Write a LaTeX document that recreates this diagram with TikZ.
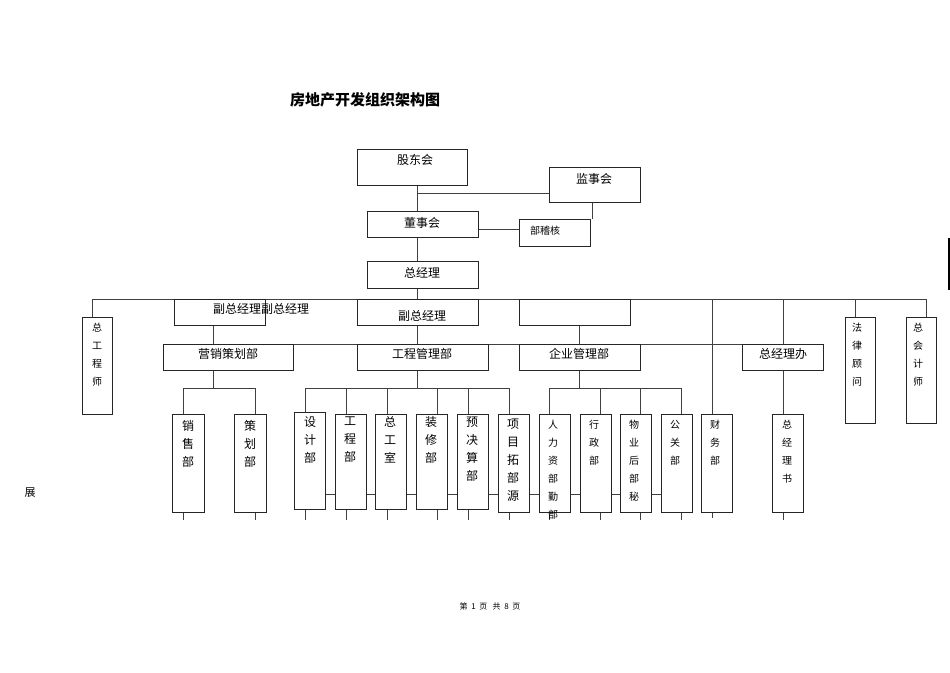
\documentclass[tikz,border=0pt]{standalone}
\usepackage{fontspec}
\setmainfont{Noto Sans CJK SC}
\begin{document}
\begin{tikzpicture}[x=1pt,y=-1pt,line width=0.9pt,
  bx/.style={draw=black!85,fill=white},
  ln/.style={draw=black!75},
  hl/.style={font=\fontsize{12}{14}\selectfont},
  vt/.style={anchor=north,align=center,font=\fontsize{12}{18}\selectfont,inner sep=0},
  vs/.style={anchor=north,align=center,font=\fontsize{10}{18}\selectfont,inner sep=0}]
\useasboundingbox (0,0) rectangle (950,672);
\node[font=\bfseries\fontsize{15}{17}\selectfont] (title) at (365,100) {房地产开发组织架构图};
% lines behind
\draw[ln] (417,185) -- (417,211);
\draw[ln] (417,193) -- (549,193);
\draw[ln] (592,202) -- (592,219);
\draw[ln] (478,229) -- (519,229);
\draw[ln] (417,237) -- (417,261);
\draw[ln] (417,288) -- (417,299);
\draw[ln] (92,299) -- (926,299);
\draw[ln] (92,299) -- (92,317);
\draw[ln] (855,299) -- (855,317);
\draw[ln] (926,299) -- (926,317);
\draw[ln] (712,299) -- (712,518);
\draw[ln] (783,299) -- (783,414);
\draw[ln] (174,344) -- (742,344);
\draw[ln] (213,325) -- (213,344);
\draw[ln] (417,325) -- (417,344);
\draw[ln] (579,325) -- (579,344);
% level 3 buses
\draw[ln] (213,370) -- (213,388) (183,388) -- (255,388);
\foreach \x in {183,255} \draw[ln] (\x,388) -- (\x,520);
\draw[ln] (417,370) -- (417,388) (305,388) -- (509,388);
\foreach \x in {305,346,387,437,468,509} \draw[ln] (\x,388) -- (\x,520);
\draw[ln] (579,370) -- (579,388) (549,388) -- (681,388);
\foreach \x in {549,600,640,681} \draw[ln] (\x,388) -- (\x,520);
\draw[ln] (783,414) -- (783,520);
\draw[ln] (320,494) -- (670,494);
% top boxes
\draw[bx] (357,149) rectangle (467,185); \node[hl] (gdh) at (415,160) {股东会};
\draw[bx] (549,167) rectangle (640,202); \node[hl] (jsh) at (594,179) {监事会};
\draw[bx] (367,211) rectangle (478,237); \node[hl] (dsh) at (422,223) {董事会};
\draw[bx] (519,219) rectangle (590,246); \node[font=\fontsize{10}{12}\selectfont] (jh) at (545,231) {部稽核};
\draw[bx] (367,261) rectangle (478,288); \node[hl] (zjl) at (422,273) {总经理};
\draw[bx] (174,299) rectangle (265,325); \node[hl] (f1) at (261,309) {副总经理副总经理};
\draw[bx] (357,299) rectangle (478,325); \node[hl] (f2) at (422,316) {副总经理};
\draw[bx] (519,299) rectangle (630,325);
\draw[bx] (163,344) rectangle (293,370); \node[hl] (yx) at (228,354) {营销策划部};
\draw[bx] (357,344) rectangle (488,370); \node[hl] (gc) at (422,354) {工程管理部};
\draw[bx] (519,344) rectangle (640,370); \node[hl] (qy) at (579,354) {企业管理部};
\draw[bx] (742,344) rectangle (823,370); \node[hl] (zb) at (783,354) {总经理办};
\draw[bx] (82,317) rectangle (112,414); \node[vs] (zgcs) at (97,323) {总\\工\\程\\师};
\draw[bx] (845,317) rectangle (875,423); \node[vs] (fl) at (857,323) {法\\律\\顾\\问};
\draw[bx] (906,317) rectangle (936,423); \node[vs] (zkj) at (918,323) {总\\会\\计\\师};
% bottom boxes
\draw[bx] (172,414) rectangle (204,512); \node[vt] (xs) at (188,420) {销\\售\\部};
\draw[bx] (234,414) rectangle (266,512); \node[vt] (ch) at (250,420) {策\\划\\部};
\draw[bx] (294,412) rectangle (325,509); \node[vt] (sj) at (310,416) {设\\计\\部};
\draw[bx] (335,414) rectangle (366,509); \node[vt] (gcb) at (350,416) {工\\程\\部};
\draw[bx] (375,414) rectangle (406,509); \node[vt] (zgs) at (390,416) {总\\工\\室};
\draw[bx] (416,414) rectangle (447,509); \node[vt] (zx) at (431,416) {装\\修\\部};
\draw[bx] (457,414) rectangle (488,509); \node[vt] (yjs) at (472,416) {预\\决\\算\\部};
\draw[bx] (498,414) rectangle (529,512); \node[vt] (xm) at (513,418) {项\\目\\拓\\部\\源};
\draw[bx] (539,414) rectangle (570,512); \node[vs] (rl) at (553,420) {人\\力\\资\\部\\勤\\部};
\draw[bx] (580,414) rectangle (611,512); \node[vs] (xz) at (594,420) {行\\政\\部};
\draw[bx] (620,414) rectangle (651,512); \node[vs] (wy) at (634,420) {物\\业\\后\\部\\秘};
\draw[bx] (661,414) rectangle (692,512); \node[vs] (gg) at (675,420) {公\\关\\部};
\draw[bx] (701,414) rectangle (732,512); \node[vs] (cw) at (715,420) {财\\务\\部};
\draw[bx] (772,414) rectangle (803,512); \node[vs] (zjs) at (787,420) {总\\经\\理\\书};
\node[font=\fontsize{11}{13}\selectfont] (zhan) at (30,493) {展};
\node[font=\fontsize{8}{10}\selectfont] (foot) at (490,606) {第\ \ 1\ \ 页\ \ \ 共\ \ 8\ \ 页};
\draw[line width=2pt] (949,238) -- (949,290);
\end{tikzpicture}
\end{document}
